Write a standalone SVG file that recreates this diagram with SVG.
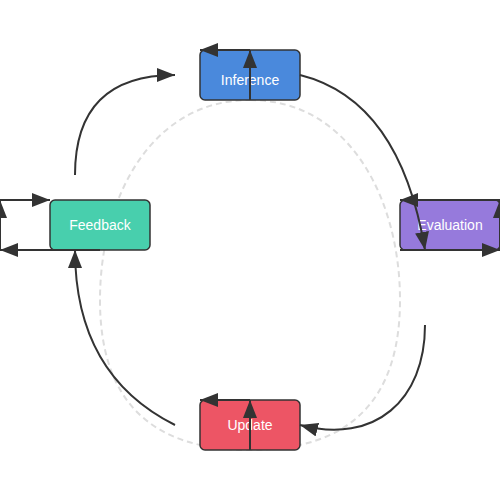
<svg xmlns="http://www.w3.org/2000/svg" width="500" height="500" viewBox="0 0 500 500">
<style>
.node rect{stroke:#333;stroke-width:1.5}
.node text{font-family:"Liberation Sans",Arial,sans-serif;font-size:14px;fill:#fff;text-anchor:middle}
.conn path{fill:none;stroke:#333;stroke-width:2;marker-end:url(#arrow)}
.guide{fill:none;stroke:#ddd;stroke-width:2;stroke-dasharray:6,4}
</style>
<defs>
<marker id="arrow" markerUnits="userSpaceOnUse" markerWidth="18" markerHeight="14" refX="18" refY="7" orient="auto">
<path d="M0,0 L18,7 L0,14 z" fill="#333"/>
</marker>
</defs>
<rect width="500" height="500" fill="#fff"/>
<path class="guide" d="M250,100 C350,100 400,200 400,300 C400,400 350,450 250,450 C150,450 100,400 100,300 C100,200 150,100 250,100 Z"/>
<g id="node-inference" class="node">
<rect x="200" y="50" width="100" height="50" rx="5" fill="#4a89dc"/>
<text x="250" y="85">Inference</text>
</g>
<g id="node-evaluation" class="node">
<rect x="400" y="200" width="100" height="50" rx="5" fill="#967adc"/>
<text x="450" y="230">Evaluation</text>
</g>
<g id="node-update" class="node">
<rect x="200" y="400" width="100" height="50" rx="5" fill="#ed5565"/>
<text x="250" y="430">Update</text>
</g>
<g id="node-feedback" class="node">
<rect x="50" y="200" width="100" height="50" rx="5" fill="#48cfad"/>
<text x="100" y="230">Feedback</text>
</g>
<g id="connectors" class="conn">
<path d="M75,175 Q75,75 175,75"/>
<path d="M300,75 Q400,100 425,250"/>
<path d="M425,325 C425,400 375,445 300,425"/>
<path d="M175,425 Q75,375 75,250"/>
<path d="M250,100 L250,50"/>
<path d="M250,50 L200,50"/>
<path d="M250,450 L250,400"/>
<path d="M250,400 L200,400"/>
<path d="M400,250 L500,250"/>
<path d="M500,250 L500,200"/>
<path d="M500,200 L400,200"/>
<path d="M100,250 L0,250"/>
<path d="M0,250 L0,200"/>
<path d="M0,200 L50,200"/>
</g>
</svg>
